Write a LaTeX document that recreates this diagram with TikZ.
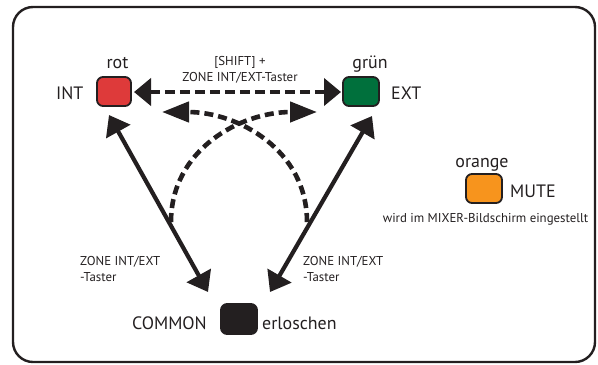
\documentclass[tikz,border=0pt]{standalone}
\usepackage{fontspec}
\setmainfont{PT Sans}
\usetikzlibrary{arrows.meta}

\definecolor{ink}{HTML}{231F20}
\definecolor{ledred}{HTML}{DE3A3A}
\definecolor{ledgreen}{HTML}{00703C}
\definecolor{ledorange}{HTML}{F7941D}

\tikzset{
  led/.style={draw=ink, line width=1.8bp, rounded corners=6bp,
              minimum width=34bp, minimum height=29bp, inner sep=0pt},
  big/.style={font=\fontsize{18}{20}\selectfont, text=ink, inner sep=0pt},
  small/.style={font=\fontsize{12.9}{14}\selectfont, text=ink, inner sep=0pt},
  solidarrow/.style={draw=ink, line width=4.2bp,
              {Triangle[length=19bp,width=27bp]}-{Triangle[length=19bp,width=27bp]}},
  straightdash/.style={draw=ink, line width=4.2bp, dash pattern=on 10bp off 5bp,
              {Triangle[length=17bp,width=27bp]}-{Triangle[length=17bp,width=27bp]}},
  arcdash/.style={draw=ink, line width=4.6bp, dash pattern=on 9bp off 5bp,
              -{Triangle[length=27bp,width=20bp]}},
}

\begin{document}
\begin{tikzpicture}[x=1bp, y=-1bp]
  \useasboundingbox (0,0) rectangle (598,364);

  % outer frame
  \draw[ink, line width=2.4bp, rounded corners=20bp] (13,7) rectangle (595,362);

  % indicator boxes
  \node[led, fill=ledred]    (rot)    at (114,91.5) {};
  \node[led, fill=ledgreen, minimum width=36bp] (gruen) at (361,91.5) {};
  \node[led, fill=ledorange, minimum width=36bp] (mute) at (484,188.5) {};
  \node[led, fill=ink, minimum width=36bp, minimum height=30bp] (common) at (239,319) {};

  % box captions
  \node[big, anchor=base] (trot) at (117.5,68) {rot};
  \node[big, anchor=base] (tgruen) at (370,68) {grün};
  \node[big, anchor=base west] (tint) at (56,99) {INT};
  \node[big, anchor=base west] (text) at (391,99) {EXT};
  \node[big, anchor=base] (torange) at (482,167) {orange};
  \node[big, anchor=base west] (tmute) at (510,197) {MUTE};
  \node[big, anchor=base east] (tcommon) at (207,329) {COMMON};
  \node[big, anchor=base west] (toff) at (262,329) {erloschen};

  % key labels
  \node[small, anchor=base] (shift1) at (240,65) {[SHIFT] +};
  \node[small, anchor=base] (shift2) at (240,81) {ZONE INT/EXT-Taster};
  \node[small, anchor=base west] (kl1) at (80,265) {ZONE INT/EXT};
  \node[small, anchor=base west] (kl2) at (80,281) {-Taster};
  \node[small, anchor=base west] (kr1) at (303,265) {ZONE INT/EXT};
  \node[small, anchor=base west] (kr2) at (303,281) {-Taster};
  \node[small, anchor=base] (mixer) at (485.5,222) {wird im MIXER-Bildschirm eingestellt};

  % connector end points
  \coordinate (lt) at (109,115);
  \coordinate (lb) at (208,292);
  \coordinate (rt) at (372,116);
  \coordinate (rb) at (270,292);
  \coordinate (hl) at (134,92);
  \coordinate (hr) at (341,92);
  \coordinate (al) at (162,112);
  \coordinate (ar) at (317,112);
  \coordinate (al0) at (307,222);
  \coordinate (ar0) at (171,222);

  % ZONE INT/EXT key: INT <-> COMMON <-> EXT
  \draw[solidarrow] (lt) -- (lb);
  \draw[solidarrow] (rt) -- (rb);

  % SHIFT + key: INT <-> EXT
  \draw[straightdash] (hl) -- (hr);

  % crossing arcs
  \draw[arcdash] (al0) .. controls (307,150) and (238,112) .. (al);
  \draw[arcdash] (ar0) .. controls (171,150) and (240,112) .. (ar);
\end{tikzpicture}
\end{document}
